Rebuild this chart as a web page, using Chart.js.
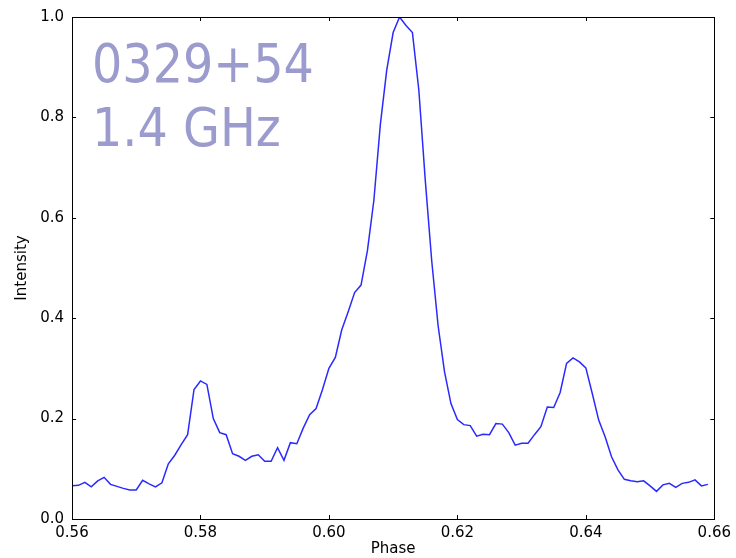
<!DOCTYPE html>
<html>
<head>
<meta charset="utf-8">
<script src="https://cdn.jsdelivr.net/npm/chart.js@4/dist/chart.umd.min.js"></script>
<style>
html,body{margin:0;padding:0;background:#fff;}
#wrap{position:relative;width:736px;height:558px;}
</style>
</head>
<body>
<div id="wrap"><canvas id="c" width="736" height="558"></canvas></div>
<script>
const phase = [
0.560,0.561,0.562,0.563,0.564,0.565,0.566,0.567,0.568,0.569,
0.570,0.571,0.572,0.573,0.574,0.575,0.576,0.577,0.578,0.579,
0.580,0.581,0.582,0.583,0.584,0.585,0.586,0.587,0.588,0.589,
0.590,0.591,0.592,0.593,0.594,0.595,0.596,0.597,0.598,0.599,
0.600,0.601,0.602,0.603,0.604,0.605,0.606,0.607,0.608,0.609,
0.610,0.611,0.612,0.613,0.614,0.615,0.616,0.617,0.618,0.619,
0.620,0.621,0.622,0.623,0.624,0.625,0.626,0.627,0.628,0.629,
0.630,0.631,0.632,0.633,0.634,0.635,0.636,0.637,0.638,0.639,
0.640,0.641,0.642,0.643,0.644,0.645,0.646,0.647,0.648,0.649,
0.650,0.651,0.652,0.653,0.654,0.655,0.656,0.657,0.658,0.659
];
const intensity = [
0.066,0.067,0.073,0.064,0.076,0.083,0.069,0.065,0.061,0.058,
0.058,0.077,0.070,0.064,0.072,0.110,0.127,0.148,0.168,0.258,
0.275,0.268,0.200,0.172,0.168,0.130,0.125,0.117,0.125,0.128,
0.115,0.115,0.142,0.117,0.152,0.150,0.181,0.208,0.220,0.258,
0.300,0.322,0.377,0.413,0.451,0.466,0.535,0.635,0.785,0.894,
0.969,1.000,0.983,0.969,0.854,0.675,0.515,0.385,0.293,0.230,
0.198,0.188,0.186,0.165,0.169,0.168,0.190,0.189,0.172,0.147,
0.151,0.151,0.168,0.184,0.223,0.222,0.252,0.310,0.321,0.313,
0.301,0.250,0.197,0.164,0.124,0.098,0.079,0.076,0.074,0.076,
0.066,0.055,0.068,0.071,0.063,0.071,0.073,0.078,0.066,0.069
];
const xTicks = [0.56,0.58,0.60,0.62,0.64,0.66];
const yTicks = [0.0,0.2,0.4,0.6,0.8,1.0];
const annotationLines = ["0329+54","1.4 GHz"];
const xTitle = "Phase";
const yTitle = "Intensity";

const FONT = "'DejaVu Sans', sans-serif";

const framePlugin = {
  id: 'frame',
  afterDraw(chart) {
    const {ctx, chartArea: a, scales} = chart;
    ctx.save();
    ctx.strokeStyle = '#000';
    ctx.lineWidth = 1;
    ctx.strokeRect(Math.round(a.left)+0.5, Math.round(a.top)+0.5, Math.round(a.right-a.left), Math.round(a.bottom-a.top));
    const L = 4;
    ctx.beginPath();
    xTicks.forEach(v => {
      const px = Math.round(scales.x.getPixelForValue(v)) + 0.5;
      ctx.moveTo(px, a.bottom); ctx.lineTo(px, a.bottom - L);
      ctx.moveTo(px, a.top); ctx.lineTo(px, a.top + L);
    });
    yTicks.forEach(v => {
      const py = Math.round(scales.y.getPixelForValue(v)) + 0.5;
      ctx.moveTo(a.left, py); ctx.lineTo(a.left + L, py);
      ctx.moveTo(a.right, py); ctx.lineTo(a.right - L, py);
    });
    ctx.stroke();
    // annotation text
    ctx.fillStyle = '#9b9bcd';
    ctx.font = "53px 'DejaVu Sans Condensed', 'DejaVu Sans', sans-serif";
    ctx.textBaseline = 'alphabetic';
    ctx.textAlign = 'left';
    ctx.fillText(annotationLines[0], 92, 82);
    ctx.fillText(annotationLines[1], 92, 146);
    ctx.restore();
  }
};

new Chart(document.getElementById('c'), {
  type: 'line',
  data: {
    labels: phase,
    datasets: [{
      data: phase.map((p, i) => ({x: p, y: intensity[i]})),
      borderColor: '#2a2aff',
      borderWidth: 1.5,
      pointRadius: 0,
      tension: 0,
      fill: false
    }]
  },
  options: {
    responsive: false,
    animation: false,
    events: [],
    layout: {padding: {left: 0, top: 16, right: 19, bottom: 0}},
    plugins: {legend: {display: false}, tooltip: {enabled: false}},
    scales: {
      x: {
        type: 'linear', min: 0.56, max: 0.66,
        afterBuildTicks: s => { s.ticks = xTicks.map(v => ({value: v})); },
        afterFit: s => { s.height = 39; },
        grid: {display: false, drawTicks: false},
        border: {display: false},
        ticks: {color: '#000', font: {family: FONT, size: 15}, padding: 5,
                maxRotation: 0, autoSkip: false,
                callback: v => Number(v).toFixed(2)},
        title: {display: true, text: xTitle, color: '#000', font: {family: FONT, size: 15}, padding: {top: 0, bottom: 0}}
      },
      y: {
        type: 'linear', min: 0, max: 1,
        afterBuildTicks: s => { s.ticks = yTicks.map(v => ({value: v})); },
        afterFit: s => { s.width = 72; },
        grid: {display: false, drawTicks: false},
        border: {display: false},
        ticks: {color: '#000', font: {family: FONT, size: 15}, padding: 8,
                callback: v => Number(v).toFixed(1)},
        title: {display: true, text: yTitle, color: '#000', font: {family: FONT, size: 15}, padding: {top: 13, bottom: 0}}
      }
    }
  },
  plugins: [framePlugin]
});
</script>
</body>
</html>
